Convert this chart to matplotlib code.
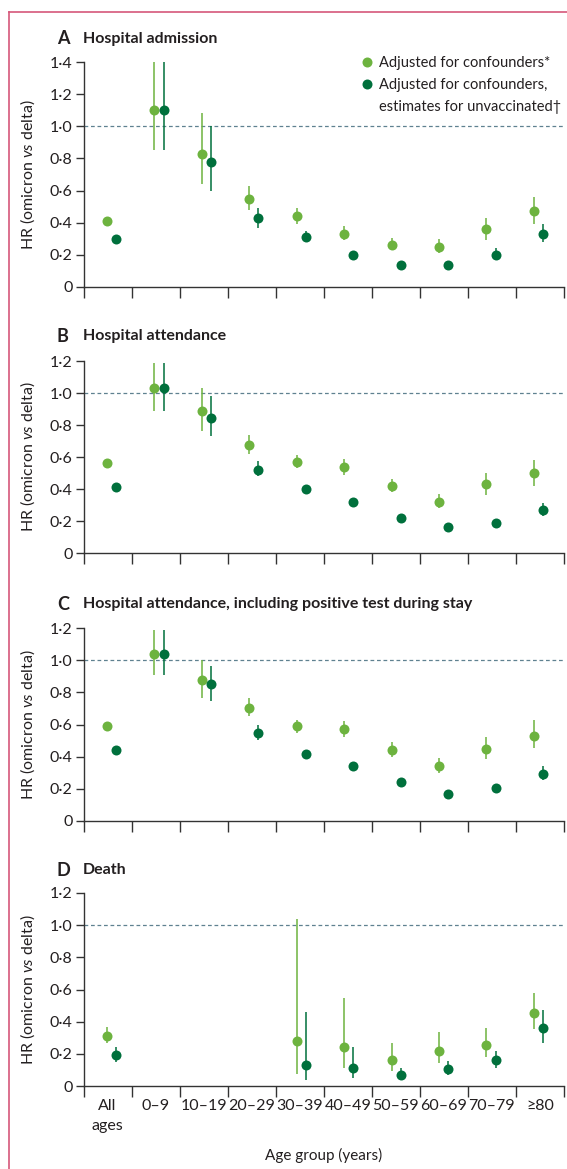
import numpy as np
import matplotlib
matplotlib.use("Agg")
import matplotlib.pyplot as plt
from matplotlib.lines import Line2D

plt.rcParams["font.family"] = ["Lato", "DejaVu Sans"]
plt.rcParams["mathtext.fontset"] = "custom"
plt.rcParams["mathtext.rm"] = "Lato"
plt.rcParams["mathtext.it"] = "Lato:italic"

nan = np.nan

# age groups
ages = ["All\nages", "0–9", "10–19", "20–29", "30–39", "40–49",
        "50–59", "60–69", "70–79", "≥80"]

# A: hospital admission
adm_adj = [0.41, 1.10, 0.83, 0.55, 0.44, 0.33, 0.26, 0.25, 0.36, 0.47]
adm_adj_lo = [0.395, 0.85, 0.64, 0.48, 0.39, 0.29, 0.23, 0.21, 0.29, 0.39]
adm_adj_hi = [0.425, 1.40, 1.08, 0.63, 0.49, 0.38, 0.305, 0.30, 0.43, 0.56]
adm_unv = [0.30, 1.10, 0.775, 0.43, 0.31, 0.20, 0.14, 0.14, 0.20, 0.33]
adm_unv_lo = [0.285, 0.85, 0.60, 0.37, 0.28, 0.18, 0.125, 0.12, 0.17, 0.28]
adm_unv_hi = [0.315, 1.40, 1.00, 0.49, 0.35, 0.215, 0.16, 0.155, 0.24, 0.39]

# B: hospital attendance
att_adj = [0.56, 1.03, 0.89, 0.675, 0.57, 0.54, 0.42, 0.32, 0.43, 0.50]
att_adj_lo = [0.545, 0.89, 0.76, 0.62, 0.53, 0.49, 0.38, 0.28, 0.36, 0.42]
att_adj_hi = [0.575, 1.19, 1.03, 0.74, 0.61, 0.59, 0.46, 0.37, 0.50, 0.58]
att_unv = [0.41, 1.03, 0.845, 0.52, 0.40, 0.32, 0.22, 0.16, 0.19, 0.27]
att_unv_lo = [0.395, 0.89, 0.73, 0.48, 0.385, 0.305, 0.205, 0.145, 0.175, 0.23]
att_unv_hi = [0.425, 1.19, 0.98, 0.575, 0.415, 0.335, 0.235, 0.175, 0.21, 0.31]

# C: hospital attendance incl. positive test during stay
pos_adj = [0.59, 1.04, 0.875, 0.705, 0.59, 0.57, 0.44, 0.34, 0.45, 0.53]
pos_adj_lo = [0.575, 0.91, 0.765, 0.65, 0.545, 0.52, 0.40, 0.30, 0.385, 0.455]
pos_adj_hi = [0.605, 1.19, 1.00, 0.765, 0.63, 0.62, 0.49, 0.39, 0.52, 0.625]
pos_unv = [0.44, 1.04, 0.85, 0.55, 0.415, 0.34, 0.24, 0.17, 0.205, 0.29]
pos_unv_lo = [0.425, 0.91, 0.745, 0.505, 0.40, 0.325, 0.225, 0.155, 0.19, 0.255]
pos_unv_hi = [0.455, 1.19, 0.965, 0.60, 0.43, 0.355, 0.255, 0.185, 0.22, 0.34]

# D: death
death_adj = [0.31, nan, nan, nan, 0.28, 0.245, 0.16, 0.22, 0.255, 0.455]
death_adj_lo = [0.265, nan, nan, nan, 0.075, 0.11, 0.095, 0.145, 0.18, 0.355]
death_adj_hi = [0.365, nan, nan, nan, 1.04, 0.545, 0.27, 0.335, 0.36, 0.58]
death_unv = [0.195, nan, nan, nan, 0.13, 0.11, 0.07, 0.105, 0.16, 0.36]
death_unv_lo = [0.15, nan, nan, nan, 0.035, 0.05, 0.04, 0.07, 0.11, 0.27]
death_unv_hi = [0.24, nan, nan, nan, 0.46, 0.24, 0.115, 0.155, 0.22, 0.475]

panels = [
    ("A", "Hospital admission", 1.4,
     (adm_adj, adm_adj_lo, adm_adj_hi), (adm_unv, adm_unv_lo, adm_unv_hi)),
    ("B", "Hospital attendance", 1.2,
     (att_adj, att_adj_lo, att_adj_hi), (att_unv, att_unv_lo, att_unv_hi)),
    ("C", "Hospital attendance, including positive test during stay", 1.2,
     (pos_adj, pos_adj_lo, pos_adj_hi), (pos_unv, pos_unv_lo, pos_unv_hi)),
    ("D", "Death", 1.2,
     (death_adj, death_adj_lo, death_adj_hi), (death_unv, death_unv_lo, death_unv_hi)),
]

LIGHT = "#6db33f"
DARK = "#00703c"
TXT = "#231f20"
FS = 11.5
MS = 7.2

W, H = 567, 1169
fig = plt.figure(figsize=(W / 100, H / 100), dpi=100)

# axes boxes in pixels: (top, bottom)
boxes = [(62, 287), (361, 553), (628, 821), (893, 1086)]
title_y = [39, 336, 604, 870]
x_left, x_right = 83.5, 564

# pink frame, left and top
fig.add_artist(Line2D([8.5 / W, 8.5 / W], [0, 1 - 12 / H], color="#d6577a", lw=1.2,
                      transform=fig.transFigure))
fig.add_artist(Line2D([8.5 / W, 1], [1 - 12 / H, 1 - 12 / H], color="#d6577a", lw=1.2,
                      transform=fig.transFigure))

x = np.arange(len(ages))
# group positions sit slightly tighter than the tick grid
xpos = x * 0.988

for i, (letter, title, ymax, adj, unv) in enumerate(panels):
    top, bot = boxes[i]
    ax = fig.add_axes([x_left / W, 1 - bot / H, (x_right - x_left) / W, (bot - top) / H])

    for (vals, lo, hi), off, col in [(adj, -0.017, LIGHT), (unv, 0.178, DARK)]:
        vals, lo, hi = np.array(vals), np.array(lo), np.array(hi)
        ax.errorbar(xpos + off, vals, yerr=[vals - lo, hi - vals], fmt="o", color=col,
                    ms=MS, mew=0, elinewidth=1.1, capsize=0)

    ax.axhline(1.0, color="#5f8190", lw=0.9, ls=(0, (3, 2.2)), zorder=0)

    ax.set_xlim(-0.5, len(ages) - 0.5)
    ax.set_ylim(0, ymax)
    yt = np.round(np.arange(0, ymax + 0.01, 0.2), 1)
    ax.set_yticks(yt)
    ax.set_yticklabels(["0" if v == 0 else f"{v:.1f}".replace(".", "·") for v in yt])
    ax.set_xticks(np.arange(len(ages) + 1) - 0.5)
    ax.set_xticklabels([])
    ax.set_xticks(x, minor=True)
    if letter == "D":
        ax.set_xticklabels(ages, minor=True, linespacing=1.55)
        ax.set_xlabel("Age group (years)", fontsize=11, color=TXT, labelpad=11)

    ax.tick_params(axis="x", which="major", length=8, width=1, color="#333333")
    ax.tick_params(axis="x", which="minor", length=0, pad=9, labelsize=FS, labelcolor=TXT)
    ax.tick_params(axis="y", length=6, width=1, color="#333333", labelsize=FS,
                   labelcolor=TXT, pad=2)
    for s in ["top", "right"]:
        ax.spines[s].set_visible(False)
    for s in ["left", "bottom"]:
        ax.spines[s].set_color("#333333")
        ax.spines[s].set_linewidth(1)
    ax.set_ylabel(r"HR (omicron $\mathit{vs}$ delta)", fontsize=FS, color=TXT)
    ax.yaxis.set_label_coords(-0.097, 0.5)

    fig.text(57 / W, 1 - title_y[i] / H, letter, fontsize=13, fontweight="bold",
             color=TXT, va="center", ha="left")
    fig.text(83 / W, 1 - title_y[i] / H, title, fontsize=11.5, fontweight="bold",
             color=TXT, va="center", ha="left")

    if letter == "A":
        handles = [
            Line2D([], [], ls="none", marker="o", ms=MS, mew=0, color=LIGHT),
            Line2D([], [], ls="none", marker="o", ms=MS, mew=0, color=DARK),
            Line2D([], [], ls="none"),
        ]
        labels = ["Adjusted for confounders*", "Adjusted for confounders,",
                  "estimates for unvaccinated†"]
        leg = ax.legend(handles, labels, loc="upper left",
                        bbox_to_anchor=(361 / W, 1 - 56 / H),
                        bbox_transform=fig.transFigure, frameon=False, fontsize=10.5,
                        handlelength=0.8, handletextpad=0.45, borderpad=0,
                        borderaxespad=0, labelspacing=0.55)
        for t in leg.get_texts():
            t.set_color(TXT)

fig.savefig("out.png", dpi=100)
